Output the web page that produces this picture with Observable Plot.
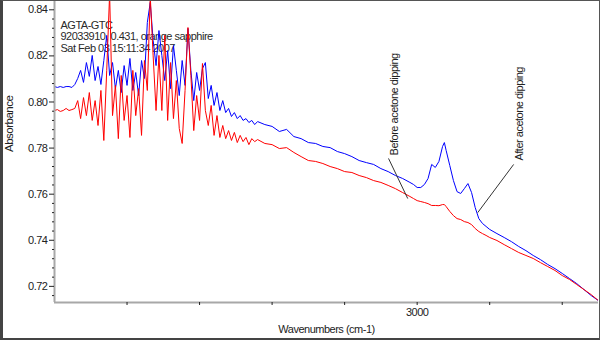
<!DOCTYPE html>
<html><head><meta charset="utf-8">
<script src="https://cdn.jsdelivr.net/npm/d3@7"></script>
<script src="https://cdn.jsdelivr.net/npm/@observablehq/plot@0.6"></script>
<style>
body{margin:0;background:#fff;}
#wrap{position:relative;width:600px;height:340px;overflow:hidden;}
#border{position:absolute;left:0;top:0;width:600px;height:340px;box-sizing:border-box;border:1px solid #555;border-left:3px solid #444;border-bottom:2px solid #444;pointer-events:none;}
#wrap svg text{letter-spacing:-0.5px;}
</style></head><body>
<div id="wrap"><div id="border"></div></div>
<script>
// ---- data (absorbance vs wavenumber) ----
const wavenumbers = [
  4000,3992,3984,3976,3968,3960,3952,3944,3936,3928,3920,3912,3904,3896,3888,3880,3872,3864,3856,3848,
  3840,3832,3824,3816,3808,3800,3792,3784,3776,3768,3760,3752,3744,3736,3728,3720,3712,3704,3696,3688,
  3680,3672,3664,3656,3648,3640,3632,3624,3616,3608,3600,3592,3584,3576,3568,3560,3552,3544,3536,3528,
  3520,3512,3504,3496,3488,3480,3472,3464,3456,3448,
  3440,3420,3400,3380,3360,3340,3320,3300,3280,3260,3240,3220,3200,3180,3160,3140,3120,3100,3080,3060,3040,3020,
  3010,3000,2990,2980,2970,2960,2950,2940,2930,2925,
  2920,2910,2900,2890,2880,2870,2860,2850,2840,2830,2820,2810,2800,
  2780,2760,2740,2720,2700,2680,2660,2640,2620,2600,2580,2560,2540,2520,2500
];
const afterDipping = [
  0.8067,0.8063,0.8067,0.8063,0.8067,0.8067,0.8063,0.8076,0.8102,0.8137,
  0.8085,0.8171,0.8111,0.8202,0.8093,0.8154,0.8076,0.8180,0.8289,0.8115,
  0.8171,0.8058,0.8137,0.8041,0.8158,0.8072,0.8189,0.8050,0.8128,0.8028,
  0.8180,0.8102,0.8345,0.8432,0.8267,0.8158,0.8310,0.8202,0.8093,0.8223,
  0.8058,0.8245,0.8137,0.8028,0.8180,0.8072,0.8319,0.8137,0.8006,0.8128,
  0.8050,0.8145,0.8171,0.8015,0.8072,0.7985,0.8041,0.7963,0.8006,0.7954,
  0.7972,0.7937,0.7954,0.7928,0.7941,0.7920,0.7928,0.7911,0.7920,0.7902,
  0.7915,0.7902,0.7894,0.7872,0.7881,0.7850,0.7841,0.7824,0.7820,0.7807,0.7802,0.7785,0.7776,0.7763,0.7746,0.7737,0.7729,0.7711,0.7698,0.7681,0.7668,0.7651,
  0.7642,0.7629,0.7629,0.7642,0.7668,0.7729,0.7716,0.7742,0.7807,0.7824,
  0.7789,0.7724,0.7659,0.7611,0.7603,0.7624,0.7646,0.7607,0.7542,0.7494,0.7473,0.7460,0.7447,
  0.7429,0.7412,0.7394,0.7373,0.7355,0.7334,0.7316,0.7295,0.7277,0.7256,0.7234,0.7212,0.7186,0.7160,0.7138
];
const beforeDipping = [
  0.7963,0.7967,0.7959,0.7963,0.7972,0.7963,0.7967,0.7972,0.8006,0.7928,
  0.8019,0.7941,0.8041,0.7920,0.8006,0.7898,0.8050,0.7833,0.8137,0.8470,
  0.7941,0.8072,0.7841,0.8115,0.7920,0.8028,0.7846,0.8137,0.7941,0.8058,
  0.7855,0.8180,0.8050,0.8460,0.8200,0.7963,0.8202,0.7963,0.8289,0.7920,
  0.8171,0.7928,0.8093,0.7885,0.7820,0.8050,0.8323,0.8115,0.7876,0.8028,
  0.7920,0.8167,0.7963,0.7898,0.7985,0.7855,0.7941,0.7846,0.7898,0.7841,
  0.7876,0.7833,0.7868,0.7824,0.7855,0.7828,0.7846,0.7815,0.7841,0.7828,
  0.7837,0.7820,0.7815,0.7798,0.7802,0.7781,0.7763,0.7746,0.7742,0.7733,0.7720,0.7711,0.7698,0.7694,0.7681,0.7672,0.7659,0.7651,0.7638,0.7624,0.7607,0.7590,
  0.7581,0.7572,0.7568,0.7564,0.7559,0.7551,0.7551,0.7550,0.7555,0.7555,
  0.7546,0.7525,0.7507,0.7494,0.7490,0.7481,0.7477,0.7468,0.7451,0.7438,0.7429,0.7421,0.7412,
  0.7399,0.7381,0.7364,0.7347,0.7334,0.7321,0.7303,0.7286,0.7269,0.7247,0.7230,0.7208,0.7186,0.7164,0.7138
];
const titleLines = ["AGTA-GTC", "92033910, 0.431, orange sapphire", "Sat Feb 03 15:11:34 2007"];
const yTicks = [0.72, 0.74, 0.76, 0.78, 0.80, 0.82, 0.84];
const yMinorTicks = [0.716,0.724,0.728,0.732,0.736,0.744,0.748,0.752,0.756,0.764,0.768,0.772,0.776,0.784,0.788,0.792,0.796,0.804,0.808,0.812,0.816,0.824,0.828,0.832,0.836];
const xTicks = [3800, 3600, 3400, 3200, 3000, 2800, 2600];
const xLabelledTicks = [3000];
const annotationLabels = ["Before acetone dipping", "After acetone dipping"];
const annotationW = [3062, 2717];
const annotationV = [0.7768, 0.7746];
const leaderW1 = [3079, 2734], leaderV1 = [0.7755, 0.7729];
const leaderW2 = [3026, 2833], leaderV2 = [0.7581, 0.7520];
const xDomain = [4000, 2500];
const yDomain = [0.7130, 0.8436];

// ---- build tables ----
const spectra = wavenumbers.map((w, i) => ({w, after: afterDipping[i], before: beforeDipping[i]}));
const annotations = annotationLabels.map((t, i) => ({t, w: annotationW[i], v: annotationV[i]}));
const leaders = annotationLabels.map((t, i) => ({w1: leaderW1[i], v1: leaderV1[i], w2: leaderW2[i], v2: leaderV2[i]}));

const chart = Plot.plot({
  width: 600, height: 340,
  marginLeft: 54, marginRight: 2, marginTop: 1, marginBottom: 38,
  x: {domain: xDomain, label: null},
  y: {domain: yDomain, label: null},
  style: {fontFamily: "'Liberation Sans', Arial, sans-serif", fontSize: "11px", color: "#222", background: "white"},
  marks: [
    Plot.text([titleLines.join("\n")], {frameAnchor: "top-left", dx: 6, dy: 19, lineAnchor: "top", textAnchor: "start", lineHeight: 1.06, fontSize: 11, fill: "#2a2a2a"}),
    Plot.line(spectra, {x: "w", y: "after", stroke: "#0000ff", strokeWidth: 1, clip: true}),
    Plot.line(spectra, {x: "w", y: "before", stroke: "#ff0000", strokeWidth: 1, clip: true}),
    Plot.link(leaders, {x1: "w1", y1: "v1", x2: "w2", y2: "v2", stroke: "#333", strokeWidth: 1}),
    Plot.text(annotations, {x: "w", y: "v", text: "t", rotate: -90, textAnchor: "start", lineAnchor: "middle", fontSize: 11, fill: "#222"}),
    Plot.ruleX([xDomain[0]], {stroke: "#a8a8a8", strokeWidth: 2}),
    Plot.ruleY([yDomain[0]], {stroke: "#a8a8a8", strokeWidth: 2}),
    Plot.axisY({ticks: yTicks, tickSize: 5, tickPadding: 2, tickFormat: d3.format(".2f"), label: null, fontSize: 11}),
    Plot.axisY({ticks: yMinorTicks, tickSize: 2, tickFormat: () => "", label: null}),
    Plot.axisX({ticks: xTicks, tickSize: 3, tickPadding: 3, tickFormat: d => xLabelledTicks.includes(d) ? String(d) : "", label: null, fontSize: 11}),
    Plot.text(["Wavenumbers (cm-1)"], {frameAnchor: "bottom", dy: 27, lineAnchor: "middle", fontSize: 11, fill: "#222"}),
    Plot.text(["Absorbance"], {frameAnchor: "left", dx: -45, rotate: -90, lineAnchor: "middle", fontSize: 11.5, fill: "#222"})
  ]
});
document.getElementById("wrap").prepend(chart);
</script>
</body></html>
